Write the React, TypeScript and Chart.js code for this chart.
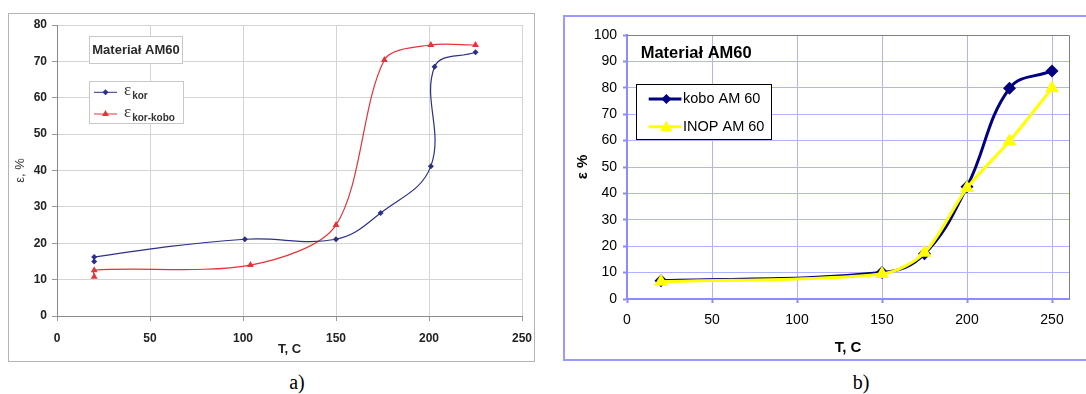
import React, { useEffect, useRef } from "react";
import { Chart, registerables } from "chart.js";

Chart.register(...registerables);

// ---------- Data: chart a) ----------
const tempKor = [20, 20, 101, 150, 174, 201, 203, 225];
const epsKor = [15.0, 16.2, 21.1, 21.1, 28.3, 41.2, 68.5, 72.5];
const tempKorKobo = [20, 20, 104, 150, 176, 201, 225];
const epsKorKobo = [10.8, 12.6, 14.0, 25.0, 70.4, 74.5, 74.5];
const xTicksA = [0, 50, 100, 150, 200, 250];
const yTicksA = [0, 10, 20, 30, 40, 50, 60, 70, 80];

// ---------- Data: chart b) ----------
const tempB = [20, 150, 175, 200, 225, 250];
const koboAM60 = [6.9, 10.0, 17.1, 42.5, 79.8, 86.4];
const inopAM60 = [6.5, 9.5, 17.5, 42.0, 59.8, 79.8];
const xTicksB = [0, 50, 100, 150, 200, 250];
const yTicksB = [0, 10, 20, 30, 40, 50, 60, 70, 80, 90, 100];

const SANS = "'Liberation Sans', Arial, Helvetica, sans-serif";

const toXY = (xs: number[], ys: number[]) => xs.map((x, i) => ({ x, y: ys[i] }));

function diamond(ctx: CanvasRenderingContext2D, x: number, y: number, r: number, color: string) {
  ctx.beginPath();
  ctx.moveTo(x, y - r);
  ctx.lineTo(x + r, y);
  ctx.lineTo(x, y + r);
  ctx.lineTo(x - r, y);
  ctx.closePath();
  ctx.fillStyle = color;
  ctx.fill();
}
function triangle(ctx: CanvasRenderingContext2D, x: number, y: number, r: number, color: string) {
  const w = r * Math.sin((2 * Math.PI) / 3);
  ctx.beginPath();
  ctx.moveTo(x, y - r);
  ctx.lineTo(x + w, y + r / 2);
  ctx.lineTo(x - w, y + r / 2);
  ctx.closePath();
  ctx.fillStyle = color;
  ctx.fill();
}

const NAVY_A = "#2d3088";
const RED_A = "#e3343a";
const NAVY_B = "#000080";
const YELLOW_B = "#ffff00";

const noPad = (s: any) => {
  s.paddingLeft = 0;
  s.paddingRight = 0;
  s.paddingTop = 0;
  s.paddingBottom = 0;
};

const overlayA = {
  id: "overlayA",
  afterDraw(chart: any) {
    const ctx = chart.ctx as CanvasRenderingContext2D;
    const ca = chart.chartArea;
    const L = ca.left, T = ca.top;
    ctx.save();
    // Title box
    ctx.fillStyle = "#fff";
    ctx.fillRect(L + 32.5, T + 11.5, 93, 27);
    ctx.strokeStyle = "#c8c8c8";
    ctx.lineWidth = 1;
    ctx.strokeRect(L + 32.5, T + 11.5, 93, 27);
    ctx.fillStyle = "#2a2a2a";
    ctx.font = `bold 13px ${SANS}`;
    ctx.textAlign = "center";
    ctx.textBaseline = "middle";
    ctx.fillText("Materiał AM60", L + 79, T + 25);
    // Legend box
    ctx.fillStyle = "#fff";
    ctx.fillRect(L + 32.5, T + 56.5, 94, 42);
    ctx.strokeRect(L + 32.5, T + 56.5, 94, 42);
    const rows = [
      { y: T + 67.3, color: NAVY_A, sub: "kor", mark: "d" },
      { y: T + 89, color: RED_A, sub: "kor-kobo", mark: "t" },
    ];
    rows.forEach((r) => {
      ctx.strokeStyle = r.color;
      ctx.lineWidth = 1;
      ctx.beginPath();
      ctx.moveTo(L + 37, r.y);
      ctx.lineTo(L + 60, r.y);
      ctx.stroke();
      if (r.mark === "d") diamond(ctx, L + 48.5, r.y, 3, r.color);
      else triangle(ctx, L + 48.5, r.y, 4, r.color);
      ctx.fillStyle = "#333";
      ctx.textAlign = "left";
      ctx.textBaseline = "alphabetic";
      ctx.font = `17px 'Liberation Serif', 'Times New Roman', serif`;
      ctx.fillText("ε", L + 67, r.y + 3);
      const w = ctx.measureText("ε").width;
      ctx.font = `bold 10px ${SANS}`;
      ctx.fillText(r.sub, L + 67 + w + 1, r.y + 7);
    });
    ctx.restore();
  },
};

const overlayB = {
  id: "overlayB",
  beforeDatasetsDraw(chart: any) {
    const ctx = chart.ctx as CanvasRenderingContext2D;
    const ca = chart.chartArea;
    ctx.save();
    ctx.strokeStyle = "#808080";
    ctx.lineWidth = 1;
    ctx.beginPath();
    ctx.moveTo(ca.left, Math.round(ca.top) + 0.5);
    ctx.lineTo(Math.round(ca.right) + 0.5, Math.round(ca.top) + 0.5);
    ctx.lineTo(Math.round(ca.right) + 0.5, ca.bottom);
    ctx.stroke();
    ctx.restore();
  },
  afterDraw(chart: any) {
    const ctx = chart.ctx as CanvasRenderingContext2D;
    const ca = chart.chartArea;
    const L = ca.left, T = ca.top;
    ctx.save();
    ctx.fillStyle = "#000";
    ctx.font = `bold 16.5px ${SANS}`;
    ctx.textAlign = "left";
    ctx.textBaseline = "middle";
    ctx.fillText("Materiał AM60", L + 13.7, T + 18.3);
    // legend box
    ctx.fillStyle = "#fff";
    ctx.fillRect(L + 9.5, T + 49.5, 135, 55);
    ctx.strokeStyle = "#000";
    ctx.lineWidth = 1;
    ctx.strokeRect(L + 9.5, T + 49.5, 135, 55);
    const rows = [
      { y: T + 64, color: NAVY_B, text: "kobo AM 60", mark: "d" },
      { y: T + 91.7, color: YELLOW_B, text: "INOP AM 60", mark: "t" },
    ];
    rows.forEach((r) => {
      ctx.strokeStyle = r.color;
      ctx.lineWidth = 3;
      ctx.beginPath();
      ctx.moveTo(L + 21.7, r.y);
      ctx.lineTo(L + 54.4, r.y);
      ctx.stroke();
      if (r.mark === "d") diamond(ctx, L + 39.4, r.y, 5, r.color);
      else triangle(ctx, L + 39.4, r.y + 1, 7, r.color);
      ctx.fillStyle = "#000";
      ctx.font = `14.5px ${SANS}`;
      ctx.textAlign = "left";
      ctx.textBaseline = "middle";
      ctx.fillText(r.text, L + 56, r.y);
    });
    ctx.restore();
  },
};

function ChartA() {
  const ref = useRef<HTMLCanvasElement | null>(null);
  useEffect(() => {
    if (!ref.current) return;
    const tickFont = { family: SANS, size: 12, weight: "bold" as const };
    const chart = new Chart(ref.current, {
      type: "scatter",
      data: {
        datasets: [
          {
            label: "ε kor",
            data: toXY(tempKor, epsKor),
            showLine: true,
            borderColor: NAVY_A,
            backgroundColor: NAVY_A,
            borderWidth: 1.2,
            pointStyle: "rectRot",
            pointRadius: 3,
            pointBorderWidth: 0,
            tension: 0.4,
          },
          {
            label: "ε kor-kobo",
            data: toXY(tempKorKobo, epsKorKobo),
            showLine: true,
            borderColor: RED_A,
            backgroundColor: RED_A,
            borderWidth: 1.2,
            pointStyle: "triangle",
            pointRadius: 4,
            pointBorderWidth: 0,
            tension: 0.3,
          },
        ],
      },
      options: {
        animation: false,
        responsive: false,
        layout: { padding: { top: 11, right: 12, left: 0, bottom: 0 } },
        plugins: { legend: { display: false }, tooltip: { enabled: false } },
        scales: {
          x: {
            type: "linear",
            min: xTicksA[0],
            max: xTicksA[xTicksA.length - 1],
            afterBuildTicks: (s: any) => { s.ticks = xTicksA.map((v) => ({ value: v })); },
            afterFit: (s: any) => { s.height = 45; noPad(s); },
            ticks: { color: "#222", font: tickFont, padding: 10, maxRotation: 0 },
            grid: { color: "#d4d4d4", tickColor: "#999", tickLength: 5 },
            border: { color: "#8a8a8a", width: 1 },
            title: { display: true, text: "T, C", color: "#222", font: { family: SANS, size: 13, weight: "bold" }, padding: { top: 0, bottom: 4 } },
          },
          y: {
            type: "linear",
            min: yTicksA[0],
            max: yTicksA[yTicksA.length - 1],
            afterBuildTicks: (s: any) => { s.ticks = yTicksA.map((v) => ({ value: v })); },
            afterFit: (s: any) => { s.width = 48; noPad(s); },
            ticks: { color: "#222", font: tickFont, padding: 5 },
            grid: { color: "#d4d4d4", tickColor: "#999", tickLength: 5 },
            border: { color: "#8a8a8a", width: 1 },
            title: { display: true, text: "ε, %", color: "#333", font: { family: SANS, size: 13 }, padding: { top: 4, bottom: 0 } },
          },
        },
      },
      plugins: [overlayA],
    } as any);
    return () => chart.destroy();
  }, []);
  return <canvas ref={ref} width={525} height={347} style={{ display: "block" }} />;
}

function ChartB() {
  const ref = useRef<HTMLCanvasElement | null>(null);
  useEffect(() => {
    if (!ref.current) return;
    const tickFont = { family: SANS, size: 14 };
    const titleFont = { family: SANS, size: 15, weight: "bold" as const };
    const axisBlue = "rgb(140,140,255)";
    const gridBlue = "rgb(178,178,255)";
    const chart = new Chart(ref.current, {
      type: "scatter",
      data: {
        datasets: [
          {
            label: "kobo AM 60",
            data: toXY(tempB, koboAM60),
            showLine: true,
            borderColor: NAVY_B,
            backgroundColor: NAVY_B,
            borderWidth: 3,
            pointStyle: "rectRot",
            pointRadius: 6.5,
            pointBorderWidth: 0,
            tension: 0.4,
            order: 1,
          },
          {
            label: "INOP AM 60",
            data: toXY(tempB, inopAM60),
            showLine: true,
            borderColor: YELLOW_B,
            backgroundColor: YELLOW_B,
            borderWidth: 3,
            pointStyle: "triangle",
            pointRadius: 8,
            pointBorderWidth: 0,
            tension: 0.3,
            order: 0,
          },
        ],
      },
      options: {
        animation: false,
        responsive: false,
        layout: { padding: { top: 18, right: 17, left: 0, bottom: 0 } },
        plugins: { legend: { display: false }, tooltip: { enabled: false } },
        scales: {
          x: {
            type: "linear",
            min: 0,
            max: 260,
            afterBuildTicks: (s: any) => { s.ticks = xTicksB.map((v) => ({ value: v })); },
            afterFit: (s: any) => { s.height = 60; noPad(s); },
            ticks: { color: "#000", font: tickFont, padding: 9, maxRotation: 0 },
            grid: { color: gridBlue, tickColor: axisBlue, tickLength: 4, tickWidth: 2 },
            border: { color: axisBlue, width: 2 },
            title: { display: true, text: "T, C", color: "#000", font: titleFont, padding: { top: 0, bottom: 2 } },
          },
          y: {
            type: "linear",
            min: 0,
            max: 100,
            afterBuildTicks: (s: any) => { s.ticks = yTicksB.map((v) => ({ value: v })); },
            afterFit: (s: any) => { s.width = 62; noPad(s); },
            ticks: { color: "#000", font: tickFont, padding: 6 },
            grid: { color: gridBlue, tickColor: axisBlue, tickLength: 4, tickWidth: 2 },
            border: { color: axisBlue, width: 2 },
            title: { display: true, text: "ε %", color: "#000", font: titleFont, padding: { top: 9, bottom: 0 } },
          },
        },
      },
      plugins: [overlayB],
    } as any);
    return () => chart.destroy();
  }, []);
  return <canvas ref={ref} width={521} height={342} style={{ display: "block" }} />;
}

export default function App() {
  return (
    <div style={{ position: "absolute", left: 0, top: 0, width: 1086, height: 394, background: "#fff", overflow: "hidden" }}>
      <div
        style={{
          position: "absolute",
          left: 8,
          top: 13,
          width: 527,
          height: 349,
          border: "1px solid #b4b4b4",
          boxSizing: "border-box",
        }}
      >
        <ChartA />
      </div>
      <div
        style={{
          position: "absolute",
          left: 563,
          top: 15,
          width: 523,
          height: 346,
          borderLeft: "2px solid rgb(153,153,255)",
          borderTop: "2px solid rgb(153,153,255)",
          borderBottom: "2px solid rgb(153,153,255)",
          boxSizing: "border-box",
        }}
      >
        <ChartB />
      </div>
      <div style={{ position: "absolute", left: 257, width: 80, top: 371, textAlign: "center", font: "20px 'Liberation Serif', 'Times New Roman', serif", lineHeight: "23px" }}>a)</div>
      <div style={{ position: "absolute", left: 821, width: 80, top: 371, textAlign: "center", font: "20px 'Liberation Serif', 'Times New Roman', serif", lineHeight: "23px" }}>b)</div>
    </div>
  );
}
